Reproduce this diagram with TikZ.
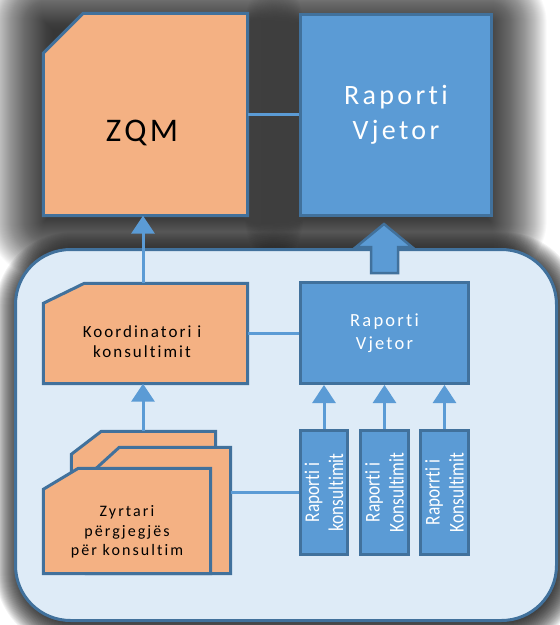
\documentclass[tikz,border=0pt]{standalone}
\usepackage{fontspec}
\setmainfont{Carlito}[Ligatures=CommonOff]
\usepackage{graphicx}
\usetikzlibrary{arrows.meta}

\definecolor{peach}{HTML}{F4B183}
\definecolor{boxblue}{HTML}{5B9BD5}
\definecolor{edgeblue}{HTML}{41719C}
\definecolor{paleblue}{HTML}{DEEBF7}

% outline of a box with its top-left corner cut off, laid over a named node
\newcommand\chamferoutline[3]{%
  ([yshift=-#2pt]#1.north west) -- ([xshift=#3pt]#1.north west) --
  (#1.north east) -- (#1.south east) -- (#1.south west) -- cycle}

% soft shadow: stacked translucent rectangles grown around a node
% #1 node, #2..#3 growth range, #4 layer opacity, #5 x offset, #6 downward offset, #7 base rounding
\newcommand\softshadow[7]{%
  \foreach \d in {#2,...,#3}{%
    \pgfmathsetmacro\rc{max(\d+#7,0.5)}%
    \fill[black,opacity=#4,rounded corners=\rc pt]
      ([xshift={-1*(\d)*1pt+#5pt},yshift={(\d)*1pt-#6pt}]#1.north west) rectangle
      ([xshift={(\d)*1pt+#5pt},yshift={-1*(\d)*1pt-#6pt}]#1.south east);}}

\tikzset{
  holder/.style={inner sep=0pt},
  peachshape/.style={fill=peach,draw=edgeblue,line width=3pt,line join=miter},
  bluebox/.style={rectangle,fill=boxblue,draw=edgeblue,line width=3pt,
    inner sep=0pt,text=white,align=center},
  panel/.style={rectangle,fill=paleblue,draw=edgeblue,line width=3pt,
    rounded corners=55pt,inner sep=0pt},
  blockarrow/.style={fill=boxblue,draw=edgeblue,line width=2.5pt,line join=miter},
  caption/.style={inner sep=0pt,align=center,text=black},
  link/.style={draw=boxblue,line width=3pt},
  uparrow/.style={link,-{Triangle[width=23pt,length=18pt]}},
  vtext/.style={rotate=90,inner sep=0pt,align=center,text=white,
    font=\fontsize{21}{24}\selectfont},
}

\begin{document}
\begin{tikzpicture}[x=1pt,y=-1pt]
\useasboundingbox (0,0) rectangle (560,625);

% ---- upper level: ZQM and the annual report
\node[holder,minimum width=204pt,minimum height=202pt] (zqm) at (145.5,114.5) {};
\node[holder,minimum width=191pt,minimum height=201pt] (rvarea) at (396,115) {};
\softshadow{zqm}{-10}{55}{0.025}{0}{7}{2}
\softshadow{rvarea}{-10}{55}{0.025}{0}{7}{2}

\path[peachshape] \chamferoutline{zqm}{40}{40};
\node[caption,font=\fontsize{33}{33}\selectfont\addfontfeatures{LetterSpace=10}]
  (zqmtext) at (142,133) {ZQM};

\node[bluebox,minimum width=191pt,minimum height=201pt,
  font=\fontsize{28}{35}\selectfont\addfontfeatures{LetterSpace=12}]
  (rv) at (rvarea) {Raporti\\Vjetor};

\draw[link] (zqm.east) -- (zqm.east -| rv.west);

% ---- lower panel
\node[holder,minimum width=541pt,minimum height=371pt] (framearea) at (286,435) {};
\softshadow{framearea}{-6}{22}{0.05}{2}{5}{55}
\node[panel,minimum width=541pt,minimum height=371pt] (frame) at (framearea) {};

% block arrow from the panel up to the annual report
\path[blockarrow] (371,273) -- (371,247) -- (356,247) -- (384,224)
  -- (412,247) -- (398,247) -- (398,273) -- cycle;

% coordinator
\node[holder,minimum width=204pt,minimum height=100pt] (koord) at (145.5,333.5) {};
\path[peachshape] \chamferoutline{koord}{20}{41};
\node[caption,font=\fontsize{17}{20}\selectfont\addfontfeatures{LetterSpace=12}]
  (koordtext) at (142,342) {Koordinatori i\\konsultimit};

% annual report inside the panel
\node[bluebox,minimum width=168pt,minimum height=101pt,
  font=\fontsize{18.5}{23}\selectfont\addfontfeatures{LetterSpace=12}]
  (rvin) at (384.5,333) {Raporti\\Vjetor};

\draw[link] (koord.east) -- (koord.east -| rvin.west);
\draw[uparrow] ([xshift=-2.5pt]koord.north) -- ([xshift=-2.5pt]zqm.south);

% stack of responsible officers
\node[holder,minimum width=144pt,minimum height=127pt] (zback) at (143.5,495) {};
\path[peachshape] \chamferoutline{zback}{23}{30};
\node[holder,minimum width=144pt,minimum height=126pt] (zmid) at (158.5,510.5) {};
\path[peachshape] \chamferoutline{zmid}{30}{33};
\node[holder,minimum width=167pt,minimum height=105pt] (zfront) at (127,521) {};
\path[peachshape] \chamferoutline{zfront}{21}{35};
\node[caption,font=\fontsize{16}{19.5}\selectfont\addfontfeatures{LetterSpace=13}]
  (zyrtext) at (127,532) {Zyrtari\\përgjegjës\\për konsultim};

\draw[uparrow] ([xshift=-2.5pt]koord.south |- zback.north) -- ([xshift=-2.5pt]koord.south);

% consultation reports
\node[bluebox,minimum width=47pt,minimum height=124pt] (k1) at (324,492.5) {};
\node[bluebox,minimum width=48pt,minimum height=124pt] (k2) at (384.5,492.5) {};
\node[bluebox,minimum width=48pt,minimum height=124pt] (k3) at (444.5,492.5) {};
\node[vtext] (k1text) at (k1) {\scalebox{0.82}[1]{Raporti i}\\\scalebox{0.82}[1]{konsultimit}};
\node[vtext] (k2text) at (k2) {\scalebox{0.82}[1]{Raporti i}\\\scalebox{0.82}[1]{Konsultimit}};
\node[vtext] (k3text) at (k3) {\scalebox{0.82}[1]{Raporrti i}\\\scalebox{0.82}[1]{Konsultimit}};

\draw[link] (k1.west -| zmid.east) -- (k1.west);
\foreach \k in {k1,k2,k3}
  \draw[uparrow] (\k.north) -- (\k.north |- rvin.south);
\end{tikzpicture}
\end{document}
